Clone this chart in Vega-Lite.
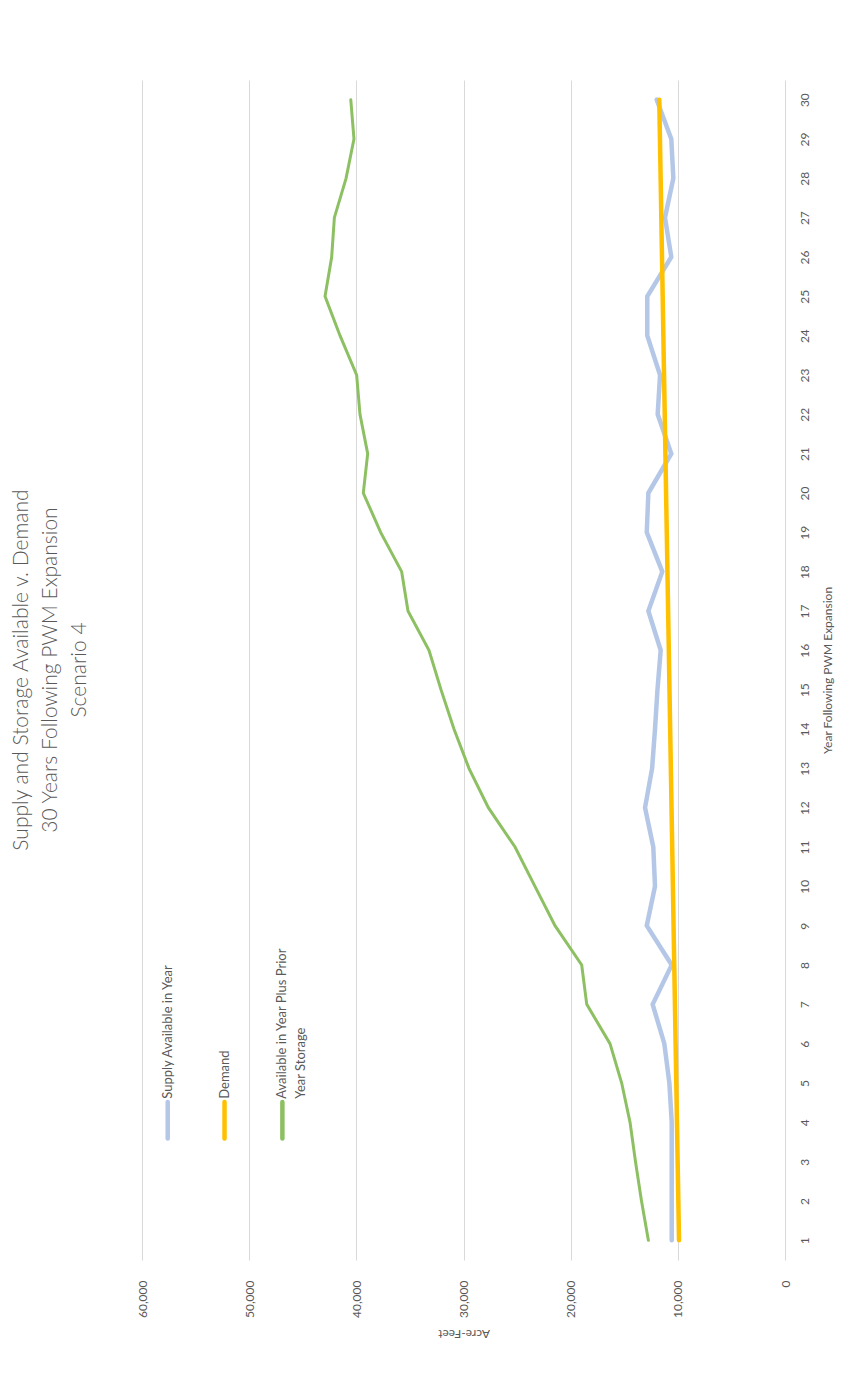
{
  "$schema": "https://vega.github.io/schema/vega-lite/v6.json",
  "width": 643,
  "height": 1180,
  "autosize": {"type": "none"},
  "padding": {"left": 142, "top": 80, "right": 71, "bottom": 121},
  "background": "white",
  "title": {
    "text": ["Supply and Storage Available v. Demand", "30 Years Following PWM Expansion", "Scenario 4"],
    "orient": "left",
    "anchor": "middle",
    "offset": 46,
    "font": "Lato",
    "fontSize": 21,
    "fontWeight": 300,
    "color": "#595959",
    "lineHeight": 29
  },
  "config": {
    "view": {"stroke": null},
    "font": "Lato",
    "axis": {
      "labelFont": "Lato",
      "titleFont": "Lato",
      "labelColor": "#595959",
      "titleColor": "#595959",
      "labelFontSize": 12,
      "titleFontSize": 12,
      "titleFontWeight": "normal",
      "domain": false,
      "ticks": false
    }
  },
  "datasets": {
    "supply": [
      {"year": 1, "acreFeet": 10570}, {"year": 2, "acreFeet": 10570}, {"year": 3, "acreFeet": 10570},
      {"year": 4, "acreFeet": 10570}, {"year": 5, "acreFeet": 10790}, {"year": 6, "acreFeet": 11260},
      {"year": 7, "acreFeet": 12350}, {"year": 8, "acreFeet": 10570}, {"year": 9, "acreFeet": 12900},
      {"year": 10, "acreFeet": 12130}, {"year": 11, "acreFeet": 12290}, {"year": 12, "acreFeet": 13060},
      {"year": 13, "acreFeet": 12400}, {"year": 14, "acreFeet": 12130}, {"year": 15, "acreFeet": 11900},
      {"year": 16, "acreFeet": 11600}, {"year": 17, "acreFeet": 12750}, {"year": 18, "acreFeet": 11450},
      {"year": 19, "acreFeet": 12900}, {"year": 20, "acreFeet": 12750}, {"year": 21, "acreFeet": 10610},
      {"year": 22, "acreFeet": 11880}, {"year": 23, "acreFeet": 11660}, {"year": 24, "acreFeet": 12850},
      {"year": 25, "acreFeet": 12850}, {"year": 26, "acreFeet": 10610}, {"year": 27, "acreFeet": 11200},
      {"year": 28, "acreFeet": 10420}, {"year": 29, "acreFeet": 10610}, {"year": 30, "acreFeet": 11970}
    ],
    "demand": [
      {"year": 1, "acreFeet": 9890}, {"year": 2, "acreFeet": 9953}, {"year": 3, "acreFeet": 10017},
      {"year": 4, "acreFeet": 10080}, {"year": 5, "acreFeet": 10144}, {"year": 6, "acreFeet": 10207},
      {"year": 7, "acreFeet": 10271}, {"year": 8, "acreFeet": 10334}, {"year": 9, "acreFeet": 10398},
      {"year": 10, "acreFeet": 10461}, {"year": 11, "acreFeet": 10525}, {"year": 12, "acreFeet": 10588},
      {"year": 13, "acreFeet": 10652}, {"year": 14, "acreFeet": 10715}, {"year": 15, "acreFeet": 10779},
      {"year": 16, "acreFeet": 10842}, {"year": 17, "acreFeet": 10906}, {"year": 18, "acreFeet": 10969},
      {"year": 19, "acreFeet": 11033}, {"year": 20, "acreFeet": 11096}, {"year": 21, "acreFeet": 11160},
      {"year": 22, "acreFeet": 11223}, {"year": 23, "acreFeet": 11287}, {"year": 24, "acreFeet": 11350},
      {"year": 25, "acreFeet": 11414}, {"year": 26, "acreFeet": 11477}, {"year": 27, "acreFeet": 11541},
      {"year": 28, "acreFeet": 11604}, {"year": 29, "acreFeet": 11668}, {"year": 30, "acreFeet": 11731}
    ],
    "storage": [
      {"year": 1, "acreFeet": 12750}, {"year": 2, "acreFeet": 13390}, {"year": 3, "acreFeet": 13950},
      {"year": 4, "acreFeet": 14460}, {"year": 5, "acreFeet": 15240}, {"year": 6, "acreFeet": 16330},
      {"year": 7, "acreFeet": 18500}, {"year": 8, "acreFeet": 18970}, {"year": 9, "acreFeet": 21460},
      {"year": 10, "acreFeet": 23330}, {"year": 11, "acreFeet": 25190}, {"year": 12, "acreFeet": 27680},
      {"year": 13, "acreFeet": 29490}, {"year": 14, "acreFeet": 30890}, {"year": 15, "acreFeet": 32100},
      {"year": 16, "acreFeet": 33220}, {"year": 17, "acreFeet": 35180}, {"year": 18, "acreFeet": 35770},
      {"year": 19, "acreFeet": 37730}, {"year": 20, "acreFeet": 39350}, {"year": 21, "acreFeet": 38940},
      {"year": 22, "acreFeet": 39660}, {"year": 23, "acreFeet": 39970}, {"year": 24, "acreFeet": 41520},
      {"year": 25, "acreFeet": 42920}, {"year": 26, "acreFeet": 42300}, {"year": 27, "acreFeet": 42050},
      {"year": 28, "acreFeet": 40960}, {"year": 29, "acreFeet": 40220}, {"year": 30, "acreFeet": 40520}
    ]
  },
  "layer": [
    {
      "data": {"name": "supply"},
      "mark": {"type": "line", "color": "#B4C7E7", "strokeWidth": 4.5, "strokeCap": "round"},
      "encoding": {
        "x": {
          "field": "acreFeet",
          "type": "quantitative",
          "scale": {"domain": [0, 60000], "reverse": true, "nice": false},
          "axis": {
            "orient": "bottom",
            "values": [0, 10000, 20000, 30000, 40000, 50000, 60000],
            "format": ",d",
            "grid": true,
            "gridColor": "#D9D9D9",
            "gridWidth": 1,
            "labelAngle": 270,
            "labelAlign": "right",
            "labelBaseline": "middle",
            "labelPadding": 20,
            "title": "Acre-Feet",
            "titleAngle": 180,
            "titleAlign": "center",
            "titleBaseline": "bottom",
            "titlePadding": 9
          }
        },
        "y": {
          "field": "year",
          "type": "quantitative",
          "scale": {"domain": [0.5, 30.5], "nice": false, "zero": false},
          "axis": {
            "orient": "right",
            "values": [1, 2, 3, 4, 5, 6, 7, 8, 9, 10, 11, 12, 13, 14, 15, 16, 17, 18, 19, 20, 21, 22, 23, 24, 25, 26, 27, 28, 29, 30],
            "format": "d",
            "grid": false,
            "labelAngle": 270,
            "labelAlign": "center",
            "labelBaseline": "top",
            "labelPadding": 14,
            "title": "Year Following PWM Expansion",
            "titleAngle": 270,
            "titleAlign": "center",
            "titleBaseline": "top",
            "titlePadding": 12
          }
        },
        "order": {"field": "year", "type": "quantitative"}
      }
    },
    {
      "data": {"name": "storage"},
      "mark": {"type": "line", "color": "#8DC063", "strokeWidth": 3, "strokeCap": "round"},
      "encoding": {
        "x": {"field": "acreFeet", "type": "quantitative"},
        "y": {"field": "year", "type": "quantitative"},
        "order": {"field": "year", "type": "quantitative"}
      }
    },
    {
      "data": {"name": "demand"},
      "mark": {"type": "line", "color": "#FFC000", "strokeWidth": 4.5, "strokeCap": "round"},
      "encoding": {
        "x": {"field": "acreFeet", "type": "quantitative"},
        "y": {"field": "year", "type": "quantitative"},
        "order": {"field": "year", "type": "quantitative"}
      }
    },
    {
      "data": {"values": [{}]},
      "mark": {"type": "rule", "color": "#B4C7E7", "strokeWidth": 4.5, "strokeCap": "round"},
      "encoding": {
        "x": {"datum": 57600, "type": "quantitative"},
        "y": {"datum": 3.59, "type": "quantitative"},
        "y2": {"datum": 4.52}
      }
    },
    {
      "data": {"values": [{}]},
      "mark": {"type": "rule", "color": "#FFC000", "strokeWidth": 4.5, "strokeCap": "round"},
      "encoding": {
        "x": {"datum": 52300, "type": "quantitative"},
        "y": {"datum": 3.59, "type": "quantitative"},
        "y2": {"datum": 4.52}
      }
    },
    {
      "data": {"values": [{}]},
      "mark": {"type": "rule", "color": "#8DC063", "strokeWidth": 4.5, "strokeCap": "round"},
      "encoding": {
        "x": {"datum": 46900, "type": "quantitative"},
        "y": {"datum": 3.59, "type": "quantitative"},
        "y2": {"datum": 4.52}
      }
    },
    {
      "data": {"values": [{"label": "Supply Available in Year"}]},
      "mark": {"type": "text", "angle": 270, "align": "left", "baseline": "middle", "font": "Lato", "fontSize": 13, "color": "#595959"},
      "encoding": {
        "x": {"datum": 57600, "type": "quantitative"},
        "y": {"datum": 4.6, "type": "quantitative"},
        "text": {"field": "label"}
      }
    },
    {
      "data": {"values": [{"label": "Demand"}]},
      "mark": {"type": "text", "angle": 270, "align": "left", "baseline": "middle", "font": "Lato", "fontSize": 13, "color": "#595959"},
      "encoding": {
        "x": {"datum": 52300, "type": "quantitative"},
        "y": {"datum": 4.6, "type": "quantitative"},
        "text": {"field": "label"}
      }
    },
    {
      "data": {"values": [{"label": "Available in Year Plus Prior|Year Storage"}]},
      "mark": {"type": "text", "angle": 270, "align": "left", "baseline": "middle", "lineBreak": "|", "lineHeight": 19, "font": "Lato", "fontSize": 13, "color": "#595959"},
      "encoding": {
        "x": {"datum": 46900, "type": "quantitative"},
        "y": {"datum": 4.6, "type": "quantitative"},
        "text": {"field": "label"}
      }
    }
  ]
}
